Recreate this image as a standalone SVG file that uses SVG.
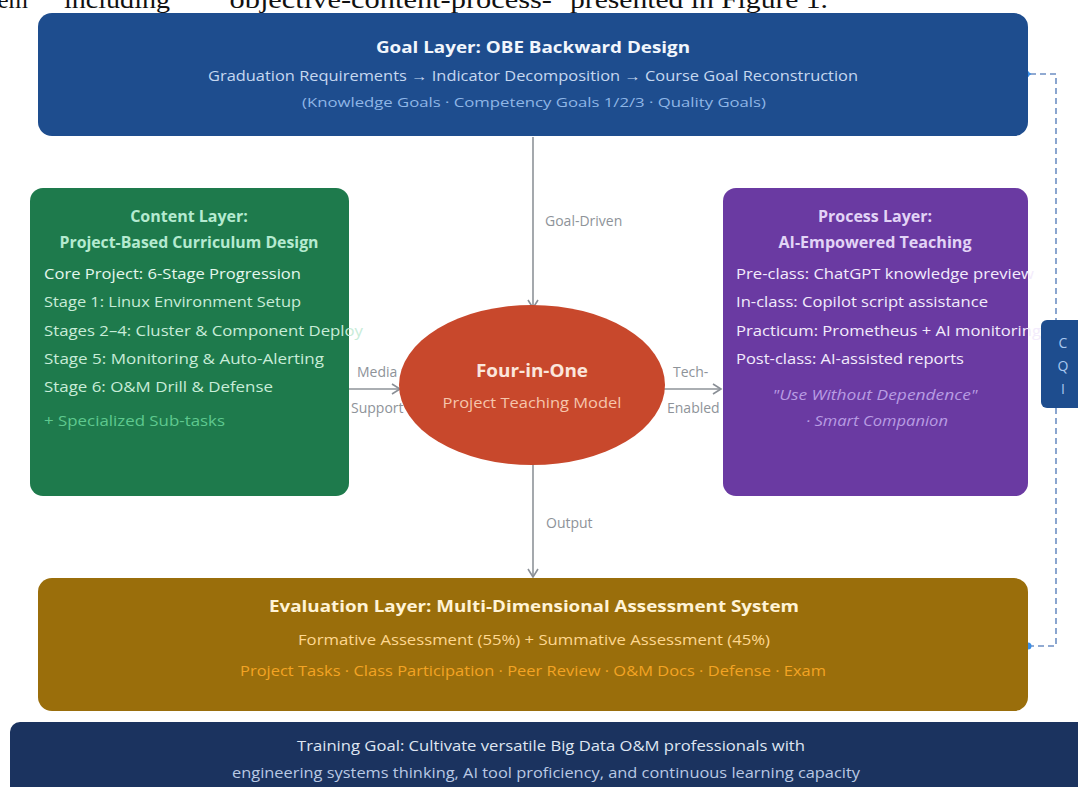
<svg xmlns="http://www.w3.org/2000/svg" width="1078" height="787" viewBox="0 0 1078 787">
  <defs>
    <marker id="arr" markerWidth="12" markerHeight="12" refX="9" refY="6" orient="auto" markerUnits="userSpaceOnUse">
      <path d="M1,1 L9,6 L1,11" fill="none" stroke="#8a8f96" stroke-width="1.6"/>
    </marker>
    <marker id="arrBlue" markerWidth="12" markerHeight="12" refX="2" refY="6" orient="auto" markerUnits="userSpaceOnUse">
      <path d="M10,1 L2,6 L10,11" fill="none" stroke="#3a8ee6" stroke-width="1.6"/>
    </marker>
  </defs>
  <style>
    text { font-family: "Open Sans", "Noto Sans", "Liberation Sans", sans-serif; }
    .serif { font-family: "Liberation Serif", "Times New Roman", serif; fill: #111; font-size: 25px; }
    .ttl { font-weight: bold; font-size: 16px; }
    .lbl { font-size: 14px; fill: #8e9399; }
    .item { font-size: 15px; }
    .conn { stroke: #8e9399; stroke-width: 1.6; fill: none; }
  </style>
  <rect width="1078" height="787" fill="#ffffff"/>

  <!-- cropped page text -->
  <g id="pagetext">
    <text class="serif" x="-22" y="8">them</text>
    <text class="serif" x="64" y="8" textLength="106" lengthAdjust="spacingAndGlyphs">including</text>
    <text class="serif" x="216" y="8" textLength="336" lengthAdjust="spacingAndGlyphs">“objective-content-process-</text>
    <text class="serif" x="570" y="8" textLength="258" lengthAdjust="spacingAndGlyphs">presented in Figure 1.</text>
  </g>

  <!-- connectors -->
  <g id="connectors">
    <line class="conn" x1="533" y1="137" x2="533" y2="308" marker-end="url(#arr)"/>
    <line class="conn" x1="349" y1="389" x2="400" y2="389" marker-end="url(#arr)"/>
    <line class="conn" x1="664" y1="389" x2="721" y2="389" marker-end="url(#arr)"/>
    <line class="conn" x1="533" y1="465" x2="533" y2="577" marker-end="url(#arr)"/>
    <text class="lbl" x="545" y="226">Goal-Driven</text>
    <text class="lbl" x="357" y="377">Media</text>
    <text class="lbl" x="351" y="413">Support</text>
    <text class="lbl" x="673" y="377">Tech-</text>
    <text class="lbl" x="667" y="413">Enabled</text>
    <text class="lbl" x="546" y="528">Output</text>
    <path d="M1028,646 H1056 V74 H1030" fill="none" stroke="#6d8fc4" stroke-width="1.6" stroke-dasharray="6,4" marker-end="url(#arrBlue)"/>
    <circle cx="1028" cy="646" r="3.5" fill="#3a8ee6"/>
    <circle cx="1026" cy="74" r="3.5" fill="#3a8ee6"/>
  </g>

  <!-- Goal layer -->
  <g id="goal">
    <rect x="38" y="13" width="990" height="123" rx="14" fill="#1e4d8e"/>
    <text class="ttl" x="533" y="53" text-anchor="middle" fill="#f2f6fc" textLength="314" lengthAdjust="spacingAndGlyphs">Goal Layer: OBE Backward Design</text>
    <text x="533" y="81" text-anchor="middle" font-size="14" fill="#c6d8f0" textLength="650" lengthAdjust="spacingAndGlyphs">Graduation Requirements → Indicator Decomposition → Course Goal Reconstruction</text>
    <text x="534" y="107" text-anchor="middle" font-size="13.5" fill="#8fb6e6" textLength="464" lengthAdjust="spacingAndGlyphs">(Knowledge Goals · Competency Goals 1/2/3 · Quality Goals)</text>
  </g>

  <!-- Content layer -->
  <g id="content">
    <rect x="30" y="188" width="319" height="308" rx="13" fill="#1e7a4c"/>
    <text class="ttl" x="189" y="222" text-anchor="middle" fill="#b5ead0" font-size="15.5">Content Layer:</text>
    <text class="ttl" x="189" y="248" text-anchor="middle" fill="#b5ead0" font-size="15.5" textLength="259" lengthAdjust="spacingAndGlyphs">Project-Based Curriculum Design</text>
    <text class="item" x="44" y="279" fill="#e4f7ec" textLength="257" lengthAdjust="spacingAndGlyphs">Core Project: 6-Stage Progression</text>
    <text class="item" x="44" y="307" fill="#c8ecd8" textLength="257" lengthAdjust="spacingAndGlyphs">Stage 1: Linux Environment Setup</text>
    <text class="item" x="44" y="336" fill="#c8ecd8" textLength="319" lengthAdjust="spacingAndGlyphs">Stages 2–4: Cluster &amp; Component Deploy</text>
    <text class="item" x="44" y="364" fill="#c8ecd8" textLength="280" lengthAdjust="spacingAndGlyphs">Stage 5: Monitoring &amp; Auto-Alerting</text>
    <text class="item" x="44" y="392" fill="#c8ecd8" textLength="229" lengthAdjust="spacingAndGlyphs">Stage 6: O&amp;M Drill &amp; Defense</text>
    <text class="item" x="44" y="426" fill="#5fc98f" textLength="181" lengthAdjust="spacingAndGlyphs">+ Specialized Sub-tasks</text>
  </g>

  <!-- Process layer -->
  <g id="process">
    <rect x="723" y="188" width="305" height="308" rx="13" fill="#6a3aa2"/>
    <text class="ttl" x="875" y="222" text-anchor="middle" fill="#e2d4f6" font-size="15.5">Process Layer:</text>
    <text class="ttl" x="875" y="248" text-anchor="middle" fill="#e2d4f6" font-size="15.5" textLength="193" lengthAdjust="spacingAndGlyphs">AI-Empowered Teaching</text>
    <text class="item" x="736" y="279" fill="#f3ecfc" textLength="298" lengthAdjust="spacingAndGlyphs">Pre-class: ChatGPT knowledge preview</text>
    <text class="item" x="736" y="307" fill="#f3ecfc" textLength="252" lengthAdjust="spacingAndGlyphs">In-class: Copilot script assistance</text>
    <text class="item" x="736" y="336" fill="#f3ecfc" textLength="305" lengthAdjust="spacingAndGlyphs">Practicum: Prometheus + AI monitoring</text>
    <text class="item" x="736" y="364" fill="#f3ecfc" textLength="228" lengthAdjust="spacingAndGlyphs">Post-class: AI-assisted reports</text>
    <text x="875" y="400" text-anchor="middle" font-size="14" font-style="italic" fill="#b89ce2" textLength="205" lengthAdjust="spacingAndGlyphs">"Use Without Dependence"</text>
    <text x="877" y="426" text-anchor="middle" font-size="14" font-style="italic" fill="#b89ce2" textLength="142" lengthAdjust="spacingAndGlyphs">· Smart Companion</text>
  </g>

  <!-- Center ellipse -->
  <g id="core">
    <ellipse cx="532" cy="385" rx="133" ry="80" fill="#c8482c"/>
    <text x="532" y="377" text-anchor="middle" font-size="17" font-weight="bold" fill="#fbe6dc" textLength="112" lengthAdjust="spacingAndGlyphs">Four-in-One</text>
    <text x="532" y="408" text-anchor="middle" font-size="14" fill="#f6c6ac" textLength="179" lengthAdjust="spacingAndGlyphs">Project Teaching Model</text>
  </g>

  <!-- Evaluation layer -->
  <g id="evaluation">
    <rect x="38" y="578" width="990" height="133" rx="14" fill="#9a6e0b"/>
    <text class="ttl" x="534" y="612" text-anchor="middle" fill="#fff3d6" textLength="530" lengthAdjust="spacingAndGlyphs">Evaluation Layer: Multi-Dimensional Assessment System</text>
    <text x="534" y="645" text-anchor="middle" font-size="14" fill="#ffd890" textLength="472" lengthAdjust="spacingAndGlyphs">Formative Assessment (55%) + Summative Assessment (45%)</text>
    <text x="533" y="676" text-anchor="middle" font-size="14" fill="#f3a424" textLength="586" lengthAdjust="spacingAndGlyphs">Project Tasks · Class Participation · Peer Review · O&amp;M Docs · Defense · Exam</text>
  </g>

  <!-- Training goal bar -->
  <g id="training">
    <rect x="10" y="722" width="1080" height="80" rx="10" fill="#1b335f"/>
    <text x="551" y="751" text-anchor="middle" font-size="14" fill="#dfe6f2" textLength="508" lengthAdjust="spacingAndGlyphs">Training Goal: Cultivate versatile Big Data O&amp;M professionals with</text>
    <text x="546" y="778" text-anchor="middle" font-size="14" fill="#b9c9e4" textLength="628" lengthAdjust="spacingAndGlyphs">engineering systems thinking, AI tool proficiency, and continuous learning capacity</text>
  </g>

  <!-- CQI -->
  <g id="cqi">
    <rect x="1041" y="320" width="50" height="88" rx="6" fill="#1e4d8e"/>
    <text x="1063" y="348" text-anchor="middle" font-size="14" fill="#a9c8f0">C</text>
    <text x="1063" y="371" text-anchor="middle" font-size="14" fill="#a9c8f0">Q</text>
    <text x="1063" y="394" text-anchor="middle" font-size="14" fill="#a9c8f0">I</text>
  </g>
</svg>
